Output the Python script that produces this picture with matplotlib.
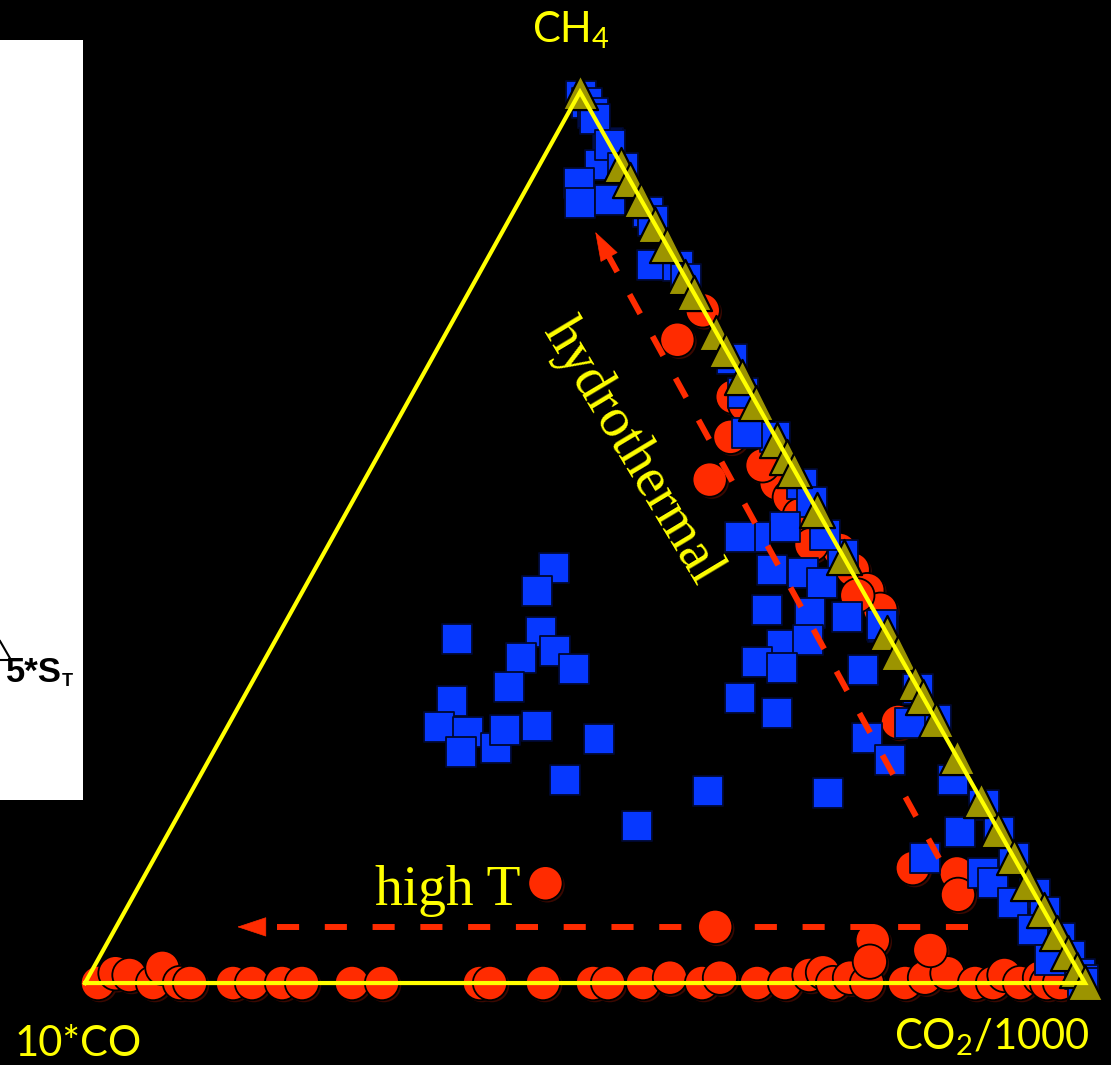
import numpy as np
import matplotlib
matplotlib.use("Agg")
import matplotlib.pyplot as plt
import matplotlib.patheffects as pe
from matplotlib.patches import Rectangle
from matplotlib.lines import Line2D

# ternary data, in % (CH4, CO2/1000); 10*CO is the remainder
red_ch4 = [0, 1.1, 0.9, 0, 1.7, 0, 0, 0, 0, 0, 0, 0, 0, 0, 0, 0, 0, 0, 0, 0.6,
           0, 0.6, 0, 0, 0.9, 1.2, 0, 0.6, 0, 0, 0.6, 1.1, 0, 0, 0.9, 0, 0.6, 0, 0,
           11.2, 6.3, 4.8, 2.4, 3.7,
           75.5, 72.2, 65.8, 61.3, 56.5, 59.8, 56.1, 54.5, 50.5, 48.6, 46.4, 44.1,
           41.9, 29.3, 12.9, 12.3, 9.9, 64.9, 58.1, 52.5, 49.2, 43.5]
red_co2 = [1.3, 2.5, 4.0, 6.8, 6.9, 9.5, 10.5, 14.8, 16.7, 19.7, 21.7, 26.7, 29.7,
           39.5, 40.5, 45.8, 50.8, 52.3, 55.8, 58.2, 61.7, 63.2, 67.2, 70.0, 72.0,
           73.2, 74.8, 76.2, 78.2, 82.0, 83.7, 85.7, 89.0, 90.8, 91.5, 93.5, 95.2,
           96.2, 97.5,
           40.5, 59.9, 76.4, 77.3, 82.7,
           24.4, 23.5, 32.2, 34.2, 34.5, 39.2, 41.4, 43.5, 48.5, 51.4, 53.8, 56.4,
           58.8, 66.8, 76.4, 81.1, 82.4, 33.9, 39.0, 45.5, 48.3, 55.7]

blue_ch4 = [99.5, 98.8, 97.6, 94.3, 91.8, 89.8, 87.5, 87.9, 86.5, 80.6,
            97.0, 94.0, 91.5, 85.5, 80.5, 79.0, 70.0, 61.3, 56.0, 48.0, 40.0, 33.0,
            29.5, 20.0, 17.0, 14.0, 10.0, 8.0, 5.0, 3.0, 1.0, 0.3,
            66.2, 61.7, 54.0, 51.2, 50.1, 50.1, 50.3, 46.4, 46.0, 44.9, 41.9, 41.5,
            41.1, 37.9, 38.5, 36.0, 35.4, 35.1, 40.2, 32.0, 30.3, 21.5, 21.3, 27.5,
            25.0, 29.2, 22.8, 16.9, 14.0, 12.3, 11.2, 9.0, 5.9, 2.6, 0.0,
            46.6, 44.0, 38.6, 39.4, 36.5, 37.3, 35.2, 33.2, 31.6, 28.7, 28.2, 25.9,
            26.4, 28.4, 28.8, 27.4, 22.8, 17.6]
blue_co2 = [0.3, 1.3, 2.5, 5.6, 6.1, 4.9, 6.2, 9.0, 13.5, 16.8,
            3.0, 6.0, 8.5, 14.5, 19.5, 21.0, 30.0, 38.7, 44.0, 52.0, 60.0, 67.0,
            70.5, 80.0, 83.0, 86.0, 90.0, 92.0, 95.0, 97.0, 99.0, 99.7,
            33.0, 35.7, 46.0, 44.7, 42.2, 40.7, 49.1, 45.7, 49.0, 51.5, 47.5, 52.0,
            55.9, 50.9, 53.2, 49.4, 52.2, 60.4, 59.8, 49.7, 54.2, 51.7, 63.8, 64.6,
            68.1, 68.0, 75.5, 79.1, 77.1, 83.7, 85.3, 88.3, 91.9, 95.2, 99.8,
            23.8, 23.4, 18.1, 26.1, 25.5, 28.5, 31.5, 26.0, 21.1, 21.2, 24.3, 24.8,
            28.0, 27.9, 30.9, 37.8, 36.7, 46.5]

olive_ch4 = [100, 91.8, 90.1, 87.9, 85.1, 82.8, 79.2, 77.4, 73.0, 71.0, 68.0, 65.1,
             60.9, 59.0, 57.6, 53.1, 47.8, 39.3, 37.0, 33.7, 32.1, 29.5, 25.4, 20.5,
             17.2, 14.1, 11.2, 8.2, 5.6, 3.4, 1.5, 0]
olive_co2 = [0, 8.2, 9.9, 12.1, 14.9, 17.2, 20.8, 22.6, 27.0, 29.0, 32.0, 34.9,
             39.1, 41.0, 42.4, 46.9, 52.2, 60.7, 63.0, 66.3, 67.9, 70.5, 74.6, 79.5,
             82.8, 85.9, 88.8, 91.8, 94.4, 96.6, 98.5, 100]

# trend arrows (tail, head) as (CH4, CO2)
hydro_arrow = [(9.3, 83.1), (84.3, 9.3)]
hight_arrow = [(6.3, 85.2), (6.3, 12.1)]

APEX = 0.495  # apex sits at 49.5% along the base in this drawing

YELLOW = "#FFFF00"
RED = "#FF2B00"
BLUE = "#0638FF"
OLIVE = "#9C9400"


def txy(ch4, co2):
    ch4 = np.asarray(ch4, dtype=float)
    co2 = np.asarray(co2, dtype=float)
    return co2 + APEX * ch4, ch4


plt.rcParams["mathtext.fontset"] = "custom"
plt.rcParams["mathtext.rm"] = "Lato"

fig = plt.figure(figsize=(11.11, 10.65), dpi=100, facecolor="black")
ax = fig.add_axes([0, 0, 1, 1])
ax.set_facecolor("black")
ax.set_xlim(-8.5, 102.6)
ax.set_ylim(-9.2, 110.33)
ax.axis("off")

# pasted figure fragment on the left
fig.patches.append(Rectangle((0, 1 - 800 / 1065), 83 / 1111, 760 / 1065,
                             transform=fig.transFigure, facecolor="white",
                             edgecolor="none", zorder=0))
fig.lines.append(Line2D([0, 11 / 1111, 0], [1 - 641 / 1065, 1 - 660 / 1065, 1 - 660 / 1065],
                        transform=fig.transFigure, color="black", lw=1.5))
fig.text(62 / 1111, 1 - 682 / 1065, "5*S", ha="right", va="baseline",
         fontsize=25, fontweight="bold", family="Liberation Sans", color="black")
fig.text(62 / 1111, 1 - 686 / 1065, "T", ha="left", va="baseline",
         fontsize=13, fontweight="bold", family="Liberation Sans", color="black")

shadow = [pe.SimplePatchShadow(offset=(1.5, -1.5), shadow_rgbFace="#3a0800", alpha=1.0),
          pe.Normal()]

x, y = txy(red_ch4, red_co2)
sc = ax.scatter(x, y, s=610, marker="o", facecolor=RED, edgecolor="black",
                linewidth=1.3, zorder=2, clip_on=False)
sc.set_path_effects(shadow)

x, y = txy(blue_ch4, blue_co2)
ax.scatter(x, y, s=480, marker="s", facecolor=BLUE, edgecolor="#000830",
           linewidth=1.3, zorder=3, clip_on=False)

x, y = txy(olive_ch4, olive_co2)
ax.scatter(x, y, s=640, marker="^", facecolor=OLIVE, edgecolor="black",
           linewidth=1.6, zorder=4, clip_on=False)

# dashed trend arrows
for (t, h) in (hydro_arrow, hight_arrow):
    tx, ty = txy(t[0], t[1])
    hx, hy = txy(h[0], h[1])
    dx, dy = hx - tx, hy - ty
    n = np.hypot(dx, dy)
    bx, by = hx - dx / n * 2.0, hy - dy / n * 2.0
    ax.plot([tx, bx], [ty, by], color=RED, lw=4.3, linestyle=(0, (3.7, 4.3)),
            solid_capstyle="butt", zorder=5)
    ax.annotate("", xy=(hx, hy), xytext=(bx, by),
                arrowprops=dict(arrowstyle="-|>,head_length=0.9,head_width=0.3",
                                color=RED, lw=0.5, mutation_scale=22,
                                shrinkA=0, shrinkB=0), zorder=5)

# yellow frame
fx, fy = txy([0, 0, 100, 0], [0, 100, 0, 0])
ax.plot(fx, fy, color=YELLOW, lw=3.0, zorder=6, solid_joinstyle="miter")

# labels
fig.text(571 / 1111, 1 - 42 / 1065, r"CH$_\mathregular{4}$", ha="center", va="baseline",
         fontsize=30, family="Lato", color=YELLOW)
fig.text(15 / 1111, 1 - 1056 / 1065, "10*CO", ha="left", va="baseline",
         fontsize=30, family="Lato", color=YELLOW)
fig.text(1090 / 1111, 1 - 1049 / 1065, r"CO$_\mathregular{2}$/1000", ha="right",
         va="baseline", fontsize=30, family="Lato", color=YELLOW)

fig.text(632 / 1111, 1 - 452 / 1065, "hydrothermal", rotation=-59,
         rotation_mode="anchor", ha="center", va="center", fontsize=40,
         family="Liberation Serif", color=YELLOW, zorder=7)
fig.text(375 / 1111, 1 - 905 / 1065, "high T", ha="left", va="baseline",
         fontsize=40, family="Liberation Serif", color=YELLOW, zorder=7)

fig.savefig("out.png", dpi=100, facecolor="black")
